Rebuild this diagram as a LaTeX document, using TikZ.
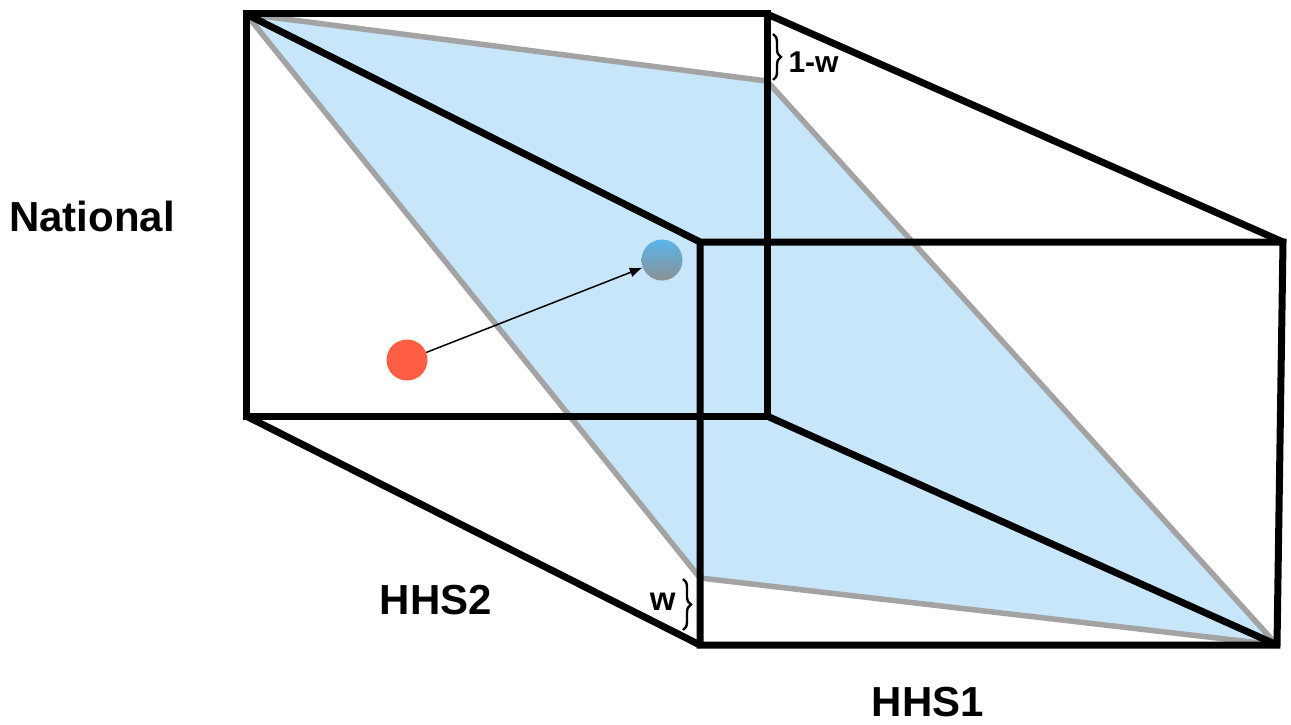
\documentclass[tikz,border=0pt]{standalone}
\usepackage{fontspec}
\setmainfont{Liberation Sans}
\usepackage{xcolor}
\usetikzlibrary{arrows.meta,decorations.pathreplacing}
\definecolor{PlaneBlue}{HTML}{C8E6F9}
\definecolor{PlaneEdge}{HTML}{A3A3A3}
\definecolor{DotRed}{HTML}{FF5E45}
\definecolor{DotBlue}{HTML}{58B6EC}
\definecolor{DotGray}{HTML}{8C9094}

\begin{document}
\begin{tikzpicture}[
  x=1pt,y=-1pt,
  edge/.style={line width=7pt,draw=black,line join=miter},
  plane/.style={fill=PlaneBlue,draw=PlaneEdge,line width=5.5pt,line join=round},
  axislabel/.style={font=\bfseries\fontsize{42}{46}\selectfont},
  wbrace/.style={decorate,decoration={brace,amplitude=8pt},line width=2.4pt},
  dot/.style={circle,minimum size=41pt,inner sep=0pt},
  move/.style={-{Latex[length=13pt,width=10pt]},line width=1.5pt}
]
\useasboundingbox (0,0) rectangle (1291,725);
% cube corners
\coordinate (btl) at (246,14);  \coordinate (btr) at (767,14);
\coordinate (bbl) at (246,416); \coordinate (bbr) at (767,416);
\coordinate (ftl) at (700,242); \coordinate (ftr) at (1283,242);
\coordinate (fbl) at (700,645); \coordinate (fbr) at (1277,645);
% plane corners
\coordinate (pb) at (767,81);
\coordinate (pf) at (700,578);

\draw[plane] (btl)--(pb)--(fbr)--(pf)--cycle;

\draw[edge] (btl) rectangle (bbr);
\draw[edge] (ftl)--(ftr)--(fbr)--(fbl)--cycle;
\draw[edge] (btl)--(ftl); \draw[edge] (btr)--(ftr);
\draw[edge] (bbl)--(fbl); \draw[edge] (bbr)--(fbr);

\node[dot,fill=DotRed] (before) at (407,360) {};
\node[dot,top color=DotBlue,bottom color=DotGray] (after) at (662,260) {};
\draw[move] (before)--(after);

\draw[wbrace] (773,34)--(773,80);
\node[font=\bfseries\fontsize{30}{34}\selectfont,anchor=west] (onew) at (785,62) {1-w};
\draw[wbrace] (683,579)--(683,630);
\node[font=\bfseries\fontsize{33}{36}\selectfont,anchor=east] (w) at (679,602) {w};

\node[axislabel] (nat) at (92,216) {National};
\node[axislabel] (hhs2) at (436,600) {HHS2};
\node[axislabel] (hhs1) at (928,702) {HHS1};
\end{tikzpicture}
\end{document}
